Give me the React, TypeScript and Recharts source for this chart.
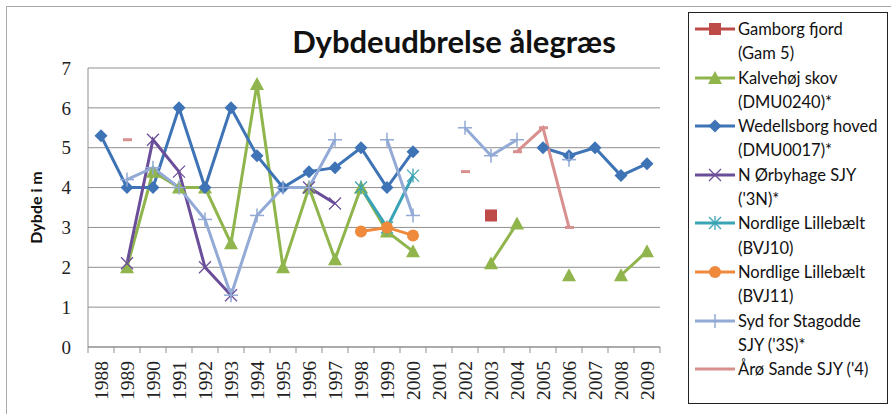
import React from 'react';
import { LineChart, Line, XAxis, YAxis, CartesianGrid } from 'recharts';

const years = [
  '1988', '1989', '1990', '1991', '1992', '1993', '1994', '1995', '1996', '1997', '1998',
  '1999', '2000', '2001', '2002', '2003', '2004', '2005', '2006', '2007', '2008', '2009',
];

const gamborg = [null, null, null, null, null, null, null, null, null, null, null, null, null, null, null, 3.3, null, null, null, null, null, null];
const kalvehoj = [null, 2.0, 4.4, 4.0, 4.0, 2.6, 6.6, 2.0, 4.0, 2.2, 4.0, 2.9, 2.4, null, null, 2.1, 3.1, null, 1.8, null, 1.8, 2.4];
const wedellsborg = [5.3, 4.0, 4.0, 6.0, 4.0, 6.0, 4.8, 4.0, 4.4, 4.5, 5.0, 4.0, 4.9, null, null, null, null, 5.0, 4.8, 5.0, 4.3, 4.6];
const orbyhage = [null, 2.1, 5.2, 4.4, 2.0, 1.3, null, null, 4.0, 3.6, null, null, null, null, null, null, null, null, null, null, null, null];
const bvj10 = [null, null, null, null, null, null, null, null, null, null, 4.0, 3.0, 4.3, null, null, null, null, null, null, null, null, null];
const bvj11 = [null, null, null, null, null, null, null, null, null, null, 2.9, 3.0, 2.8, null, null, null, null, null, null, null, null, null];
const stagodde = [null, 4.2, 4.5, 4.0, 3.2, 1.3, 3.3, 4.0, 4.0, 5.2, null, 5.2, 3.3, null, 5.5, 4.8, 5.2, null, 4.7, null, null, null];
const aroSande = [null, 5.2, null, null, null, null, null, null, null, null, null, null, null, null, 4.4, null, 4.9, 5.5, 3.0, null, null, null];

const yTicks = [0, 1, 2, 3, 4, 5, 6, 7];

type Kind = 'square' | 'triangle' | 'diamond' | 'x' | 'star' | 'circle' | 'plus' | 'dash';

const series: { key: string; name: string; color: string; kind: Kind; values: (number | null)[] }[] = [
  { key: 'gamborg', name: 'Gamborg fjord\n(Gam 5)', color: '#BE4B48', kind: 'square', values: gamborg },
  { key: 'kalvehoj', name: 'Kalvehøj skov\n(DMU0240)*', color: '#8FB54C', kind: 'triangle', values: kalvehoj },
  { key: 'wedellsborg', name: 'Wedellsborg hoved\n(DMU0017)*', color: '#3E74B6', kind: 'diamond', values: wedellsborg },
  { key: 'orbyhage', name: "N Ørbyhage SJY\n('3N)*", color: '#6B4E99', kind: 'x', values: orbyhage },
  { key: 'bvj10', name: 'Nordlige Lillebælt\n(BVJ10)', color: '#3AA3B5', kind: 'star', values: bvj10 },
  { key: 'bvj11', name: 'Nordlige Lillebælt\n(BVJ11)', color: '#EF8A3C', kind: 'circle', values: bvj11 },
  { key: 'stagodde', name: "Syd for Stagodde\nSJY ('3S)*", color: '#92AAD5', kind: 'plus', values: stagodde },
  { key: 'aroSande', name: "Årø Sande SJY ('4)", color: '#D8908F', kind: 'dash', values: aroSande },
];

const rows = years.map((year, i) => {
  const row: Record<string, string | number | null> = { year };
  series.forEach((s) => {
    row[s.key] = s.values[i];
  });
  return row;
});

const W = 891;
const H = 414;
const PLOT_LEFT = 88;
const PLOT_RIGHT = 660;
const PLOT_TOP = 68;
const PLOT_BOTTOM = 347;
const BAND = (PLOT_RIGHT - PLOT_LEFT) / years.length;
const GRID = '#8f8f8f';

const Mark = ({ kind, color, cx, cy }: { kind: Kind; color: string; cx: number; cy: number }) => {
  switch (kind) {
    case 'square':
      return <rect x={cx - 6} y={cy - 6} width={12} height={12} fill={color} />;
    case 'triangle':
      return <polygon points={`${cx},${cy - 7} ${cx + 7},${cy + 6} ${cx - 7},${cy + 6}`} fill={color} />;
    case 'diamond':
      return <polygon points={`${cx},${cy - 6.5} ${cx + 6.5},${cy} ${cx},${cy + 6.5} ${cx - 6.5},${cy}`} fill={color} />;
    case 'circle':
      return <circle cx={cx} cy={cy} r={6} fill={color} />;
    case 'x':
      return (
        <g stroke={color} strokeWidth={1.3}>
          <line x1={cx - 6} y1={cy - 6} x2={cx + 6} y2={cy + 6} />
          <line x1={cx - 6} y1={cy + 6} x2={cx + 6} y2={cy - 6} />
        </g>
      );
    case 'star':
      return (
        <g stroke={color} strokeWidth={1.3}>
          <line x1={cx - 6} y1={cy - 6} x2={cx + 6} y2={cy + 6} />
          <line x1={cx - 6} y1={cy + 6} x2={cx + 6} y2={cy - 6} />
          <line x1={cx} y1={cy - 7} x2={cx} y2={cy + 7} />
        </g>
      );
    case 'plus':
      return (
        <g stroke={color} strokeWidth={1.5}>
          <line x1={cx - 7} y1={cy} x2={cx + 7} y2={cy} />
          <line x1={cx} y1={cy - 7} x2={cx} y2={cy + 7} />
        </g>
      );
    case 'dash':
      return <line x1={cx - 4} y1={cy} x2={cx + 5} y2={cy} stroke={color} strokeWidth={3} />;
    default:
      return null;
  }
};

const makeDot = (kind: Kind, color: string) => (props: any) => {
  const { cx, cy, value, index } = props;
  const k = `${kind}-${index}`;
  if (value == null || cx == null || cy == null) return <g key={k} />;
  return (
    <g key={k}>
      <Mark kind={kind} color={color} cx={cx} cy={cy} />
    </g>
  );
};

const YearTick = (props: any) => {
  const { x, y, payload, index } = props;
  return (
    <g>
      <line x1={x - BAND / 2} y1={y} x2={x - BAND / 2} y2={y + 6} stroke={GRID} />
      {index === years.length - 1 && <line x1={x + BAND / 2} y1={y} x2={x + BAND / 2} y2={y + 6} stroke={GRID} />}
      <text
        x={x}
        y={y + 14}
        transform={`rotate(-90, ${x}, ${y + 14})`}
        textAnchor="end"
        dominantBaseline="central"
        fontFamily="'Liberation Serif', serif"
        fontSize={19.5}
        fill="#222"
      >
        {payload.value}
      </text>
    </g>
  );
};

const LegendIcon = ({ kind, color }: { kind: Kind; color: string }) => (
  <svg width={44} height={14} style={{ flex: 'none', marginTop: 5 }}>
    <line x1={2} y1={7} x2={42} y2={7} stroke={color} strokeWidth={3} />
    {kind !== 'dash' && <Mark kind={kind} color={color} cx={22} cy={7} />}
  </svg>
);

export default function App() {
  return (
    <div style={{ position: 'absolute', left: 0, top: 0, width: W, height: H, background: '#fff', overflow: 'hidden' }}>
      <div style={{ position: 'absolute', left: 6, top: 6, width: W + 20, height: H + 20, border: '1px solid #a9a9a9' }} />
      <div
        style={{
          position: 'absolute',
          left: 0,
          width: 908,
          top: 22,
          textAlign: 'center',
          fontFamily: 'Lato, sans-serif',
          fontWeight: 700,
          fontSize: 31,
          color: '#111',
        }}
      >
        Dybdeudbrelse ålegræs
      </div>
      <div style={{ position: 'absolute', left: 0, top: 0 }}>
        <LineChart
          width={W}
          height={H}
          data={rows}
          margin={{ top: PLOT_TOP, right: W - PLOT_RIGHT, bottom: 0, left: 0 }}
        >
          <CartesianGrid vertical={false} stroke={GRID} strokeWidth={1} />
          <XAxis
            dataKey="year"
            height={H - PLOT_BOTTOM}
            interval={0}
            padding={{ left: BAND / 2, right: BAND / 2 }}
            tickLine={false}
            tickSize={0}
            tickMargin={0}
            axisLine={{ stroke: GRID }}
            tick={<YearTick />}
          />
          <YAxis
            width={PLOT_LEFT}
            domain={[0, 7]}
            ticks={yTicks}
            interval={0}
            tickLine={false}
            tickSize={0}
            tickMargin={17}
            axisLine={{ stroke: GRID }}
            tick={{ fontFamily: "'Liberation Serif', serif", fontSize: 19, fill: '#222' }}
            label={{
              value: 'Dybde i m',
              angle: -90,
              position: 'insideLeft',
              offset: 36,
              style: { fontFamily: 'Lato, sans-serif', fontWeight: 700, fontSize: 16, fill: '#111', textAnchor: 'middle' },
            }}
          />
          {series.map((s) => (
            <Line
              key={s.key}
              dataKey={s.key}
              name={s.name}
              type="linear"
              stroke={s.color}
              strokeWidth={3}
              dot={makeDot(s.kind, s.color)}
              activeDot={false}
              connectNulls={false}
              isAnimationActive={false}
            />
          ))}
        </LineChart>
      </div>
      <div
        style={{
          position: 'absolute',
          left: 688,
          top: 12,
          width: 200,
          height: 392,
          boxSizing: 'border-box',
          border: '1px solid #222',
          padding: '4px 0 0 4px',
          fontFamily: 'Lato, sans-serif',
          fontSize: 16.5,
          color: '#111',
        }}
      >
        {series.map((s) => (
          <div key={s.key} style={{ display: 'flex', alignItems: 'flex-start', height: 48.6 }}>
            <LegendIcon kind={s.kind} color={s.color} />
            <div style={{ whiteSpace: 'pre-line', lineHeight: '24.3px', marginLeft: 1 }}>{s.name}</div>
          </div>
        ))}
      </div>
    </div>
  );
}
